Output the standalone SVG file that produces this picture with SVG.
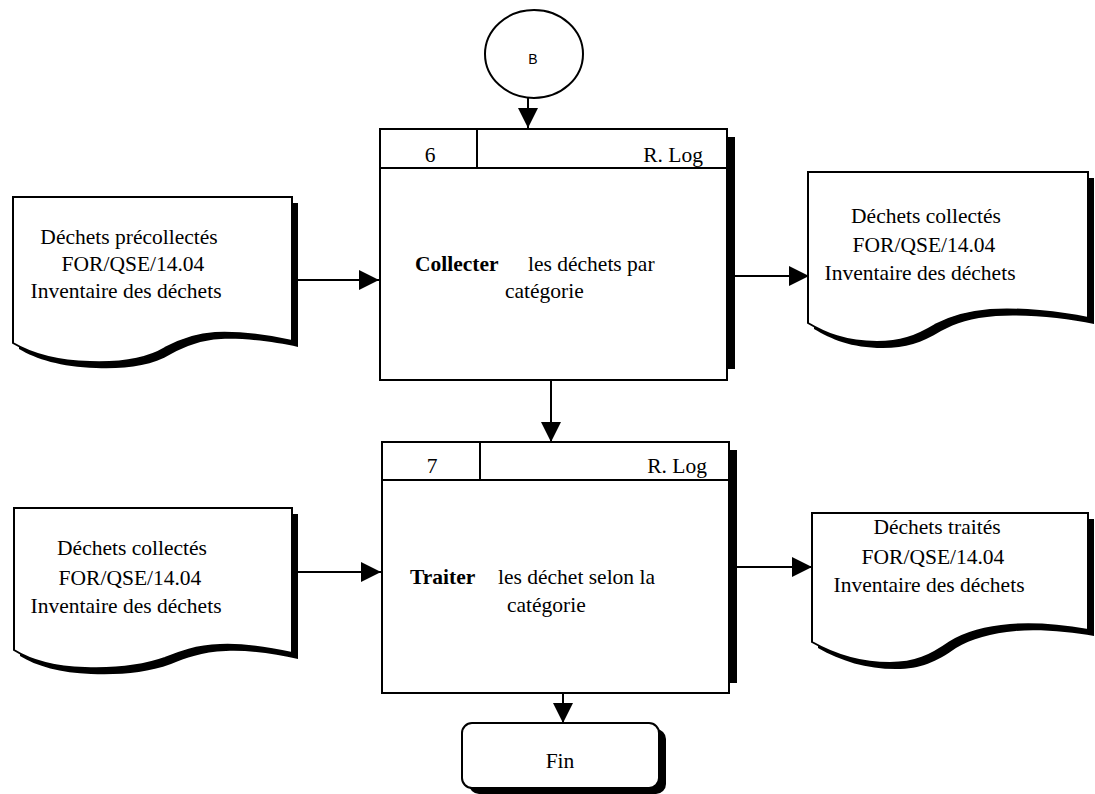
<svg xmlns="http://www.w3.org/2000/svg" width="1095" height="794" viewBox="0 0 1095 794">
<style>
.ln{stroke:#000;stroke-width:2;fill:none}
.box{fill:#fff;stroke:#000;stroke-width:2}
.sh{fill:#000;stroke:none}
.t{font-family:"Liberation Serif","Times New Roman",serif;font-size:21.5px;fill:#000}
.b{font-weight:bold}
.m{text-anchor:middle}
.e{text-anchor:end}
.s{font-family:"Liberation Sans",Arial,sans-serif;font-size:14px;fill:#000;text-anchor:middle}
</style>
<defs>
<marker id="ah" markerUnits="userSpaceOnUse" markerWidth="22" markerHeight="22" refX="20" refY="10" orient="auto">
<path d="M0,0 L20,10 L0,20 Z" fill="#000"/>
</marker>
</defs>
<rect width="1095" height="794" fill="#fff"/>

<g id="connectors">
<line class="ln" x1="528" y1="98" x2="528" y2="128" marker-end="url(#ah)"/>
<line class="ln" x1="298" y1="280" x2="379" y2="280" marker-end="url(#ah)"/>
<line class="ln" x1="735" y1="276" x2="809" y2="276" marker-end="url(#ah)"/>
<line class="ln" x1="551" y1="380" x2="551" y2="442" marker-end="url(#ah)"/>
<line class="ln" x1="298" y1="572" x2="381" y2="572" marker-end="url(#ah)"/>
<line class="ln" x1="737" y1="567" x2="812" y2="567" marker-end="url(#ah)"/>
<line class="ln" x1="563" y1="693" x2="563" y2="723" marker-end="url(#ah)"/>
</g>

<g id="nodeB">
<ellipse cx="534" cy="54" rx="49" ry="44" class="box"/>
<text class="s" x="533" y="64">B</text>
</g>

<g id="step6">
<rect class="sh" x="727" y="137" width="8" height="232"/>
<rect class="box" x="380" y="129" width="347" height="251"/>
<line class="ln" x1="380" y1="168" x2="727" y2="168"/>
<line class="ln" x1="477" y1="129" x2="477" y2="168"/>
<text class="t m" x="430" y="162">6</text>
<text class="t e" x="703" y="162">R. Log</text>
<text class="t b" x="415" y="271">Collecter</text>
<text class="t" x="528" y="271">les déchets par</text>
<text class="t" x="505" y="298">catégorie</text>
</g>

<g id="step7">
<rect class="sh" x="729" y="450" width="8" height="233"/>
<rect class="box" x="382" y="442" width="347" height="251"/>
<line class="ln" x1="382" y1="480" x2="729" y2="480"/>
<line class="ln" x1="480" y1="442" x2="480" y2="480"/>
<text class="t m" x="432" y="473">7</text>
<text class="t e" x="707" y="473">R. Log</text>
<text class="t b" x="410" y="584">Traiter</text>
<text class="t" x="498" y="584">les déchet selon la</text>
<text class="t" x="507" y="612">catégorie</text>
</g>

<g id="docIn1">
<path class="sh" transform="translate(6,6)" d="M13,197 H292 V341 C270,336 240,332 215,333 C195,334 180,340 165,348 C145,360 120,363 90,362 C55,361 30,353 13,343 Z"/>
<path class="box" d="M13,197 H292 V341 C270,336 240,332 215,333 C195,334 180,340 165,348 C145,360 120,363 90,362 C55,361 30,353 13,343 Z"/>
<text class="t m" x="129" y="244">Déchets précollectés</text>
<text class="t m" x="133" y="271">FOR/QSE/14.04</text>
<text class="t m" x="126" y="298">Inventaire des déchets</text>
</g>

<g id="docOut1">
<path class="sh" transform="translate(6,6)" d="M808,172 H1088 V318 C1060,312 1020,308 990,310 C965,312 950,317 935,325 C915,337 900,342 877,342 C845,342 825,333 808,323 Z"/>
<path class="box" d="M808,172 H1088 V318 C1060,312 1020,308 990,310 C965,312 950,317 935,325 C915,337 900,342 877,342 C845,342 825,333 808,323 Z"/>
<text class="t m" x="926" y="223">Déchets collectés</text>
<text class="t m" x="924" y="252">FOR/QSE/14.04</text>
<text class="t m" x="920" y="280">Inventaire des déchets</text>
</g>

<g id="docIn2">
<path class="sh" transform="translate(6,6)" d="M14,508 H292 V653 C270,648 245,644 220,645 C195,646 180,652 165,658 C140,667 115,669 85,668 C55,667 30,660 14,650 Z"/>
<path class="box" d="M14,508 H292 V653 C270,648 245,644 220,645 C195,646 180,652 165,658 C140,667 115,669 85,668 C55,667 30,660 14,650 Z"/>
<text class="t m" x="132" y="555">Déchets collectés</text>
<text class="t m" x="130" y="585">FOR/QSE/14.04</text>
<text class="t m" x="126" y="613">Inventaire des déchets</text>
</g>

<g id="docOut2">
<path class="sh" transform="translate(6,6)" d="M812,513 H1088 V630 C1065,626 1035,623 1010,625 C985,627 965,633 950,642 C930,656 915,663 890,663 C860,663 835,655 812,642 Z"/>
<path class="box" d="M812,513 H1088 V630 C1065,626 1035,623 1010,625 C985,627 965,633 950,642 C930,656 915,663 890,663 C860,663 835,655 812,642 Z"/>
<text class="t m" x="937" y="534">Déchets traités</text>
<text class="t m" x="933" y="564">FOR/QSE/14.04</text>
<text class="t m" x="929" y="592">Inventaire des déchets</text>
</g>

<g id="fin">
<rect class="sh" x="469" y="729" width="197" height="65" rx="10"/>
<rect class="box" x="462" y="723" width="197" height="65" rx="10"/>
<text class="t m" x="560" y="768">Fin</text>
</g>
</svg>
